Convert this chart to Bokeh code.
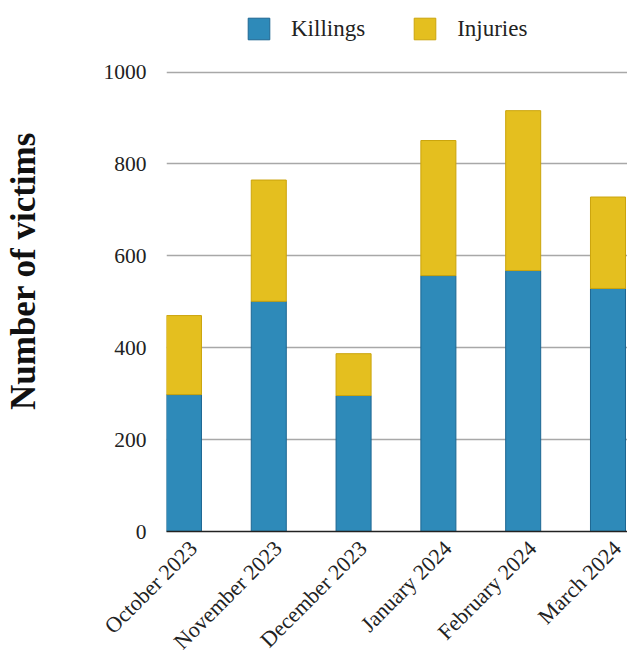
import numpy as np
from bokeh.plotting import figure
from bokeh.models import ColumnDataSource, Range1d, FixedTicker, Legend
from bokeh.embed import file_html
from bokeh.resources import INLINE

months = ["October 2023", "November 2023", "December 2023",
          "January 2024", "February 2024", "March 2024"]
killings = [298, 501, 296, 557, 568, 529]
injuries = [172, 264, 91, 294, 348, 199]
y_ticks = [0, 200, 400, 600, 800, 1000]

xs = list(range(len(months)))
src = ColumnDataSource(dict(x=xs, Killings=killings, Injuries=injuries))

FONT = "Liberation Serif"
LABEL_SHIFT = 0.11  # visual nudge of rotated month labels

p = figure(width=627, height=665, output_backend="svg", toolbar_location=None,
           x_range=Range1d(-0.206, 5.23), y_range=Range1d(0, 1134),
           min_border_left=166, min_border_right=0, min_border_top=10,
           min_border_bottom=134)
p.outline_line_color = None
p.background_fill_color = "white"
p.border_fill_color = "white"

r = p.vbar_stack(["Killings", "Injuries"], x="x", width=0.413, source=src,
                 fill_color=["#2E8AB9", "#E4BF1F"],
                 line_color=["#1D6692", "#CBA40C"], line_width=1)

legend = Legend(items=[("Killings", [r[0]]), ("Injuries", [r[1]])],
                orientation="horizontal", location=(79, 489),
                glyph_width=27, glyph_height=27, label_standoff=19,
                spacing=46, padding=0, margin=0,
                label_text_font=FONT, label_text_font_size="23px",
                label_text_color="#222222", border_line_color=None,
                background_fill_alpha=0)
p.add_layout(legend)

# y axis
p.yaxis.ticker = FixedTicker(ticks=y_ticks)
p.yaxis.axis_line_color = None
p.yaxis.major_tick_line_color = None
p.yaxis.minor_tick_line_color = None
p.yaxis.major_tick_out = 0
p.yaxis.major_label_standoff = 20
p.yaxis.major_label_text_font = FONT
p.yaxis.major_label_text_font_size = "21.5px"
p.yaxis.major_label_text_color = "#222222"
p.yaxis.axis_label = "Number of victims"
p.yaxis.axis_label_text_font = FONT
p.yaxis.axis_label_text_font_style = "bold"
p.yaxis.axis_label_text_font_size = "35px"
p.yaxis.axis_label_text_color = "#111111"
p.yaxis.axis_label_standoff = 58

# x axis
tick_pos = [i + LABEL_SHIFT for i in xs]
p.xaxis.ticker = FixedTicker(ticks=tick_pos)
p.xaxis.major_label_overrides = {t: m for t, m in zip(tick_pos, months)}
p.xaxis.major_label_orientation = np.pi / 4
p.xaxis.axis_line_color = "#222222"
p.xaxis.axis_line_width = 1.5
p.xaxis.major_tick_line_color = None
p.xaxis.minor_tick_line_color = None
p.xaxis.major_tick_out = 0
p.xaxis.major_label_standoff = 13
p.xaxis.major_label_text_font = FONT
p.xaxis.major_label_text_font_size = "22px"
p.xaxis.major_label_text_color = "#222222"

p.xgrid.grid_line_color = None
p.ygrid.ticker = FixedTicker(ticks=y_ticks)
p.ygrid.grid_line_color = "#A8A8A8"
p.ygrid.grid_line_width = 1.5

open("out.html", "w").write(file_html(p, INLINE))
